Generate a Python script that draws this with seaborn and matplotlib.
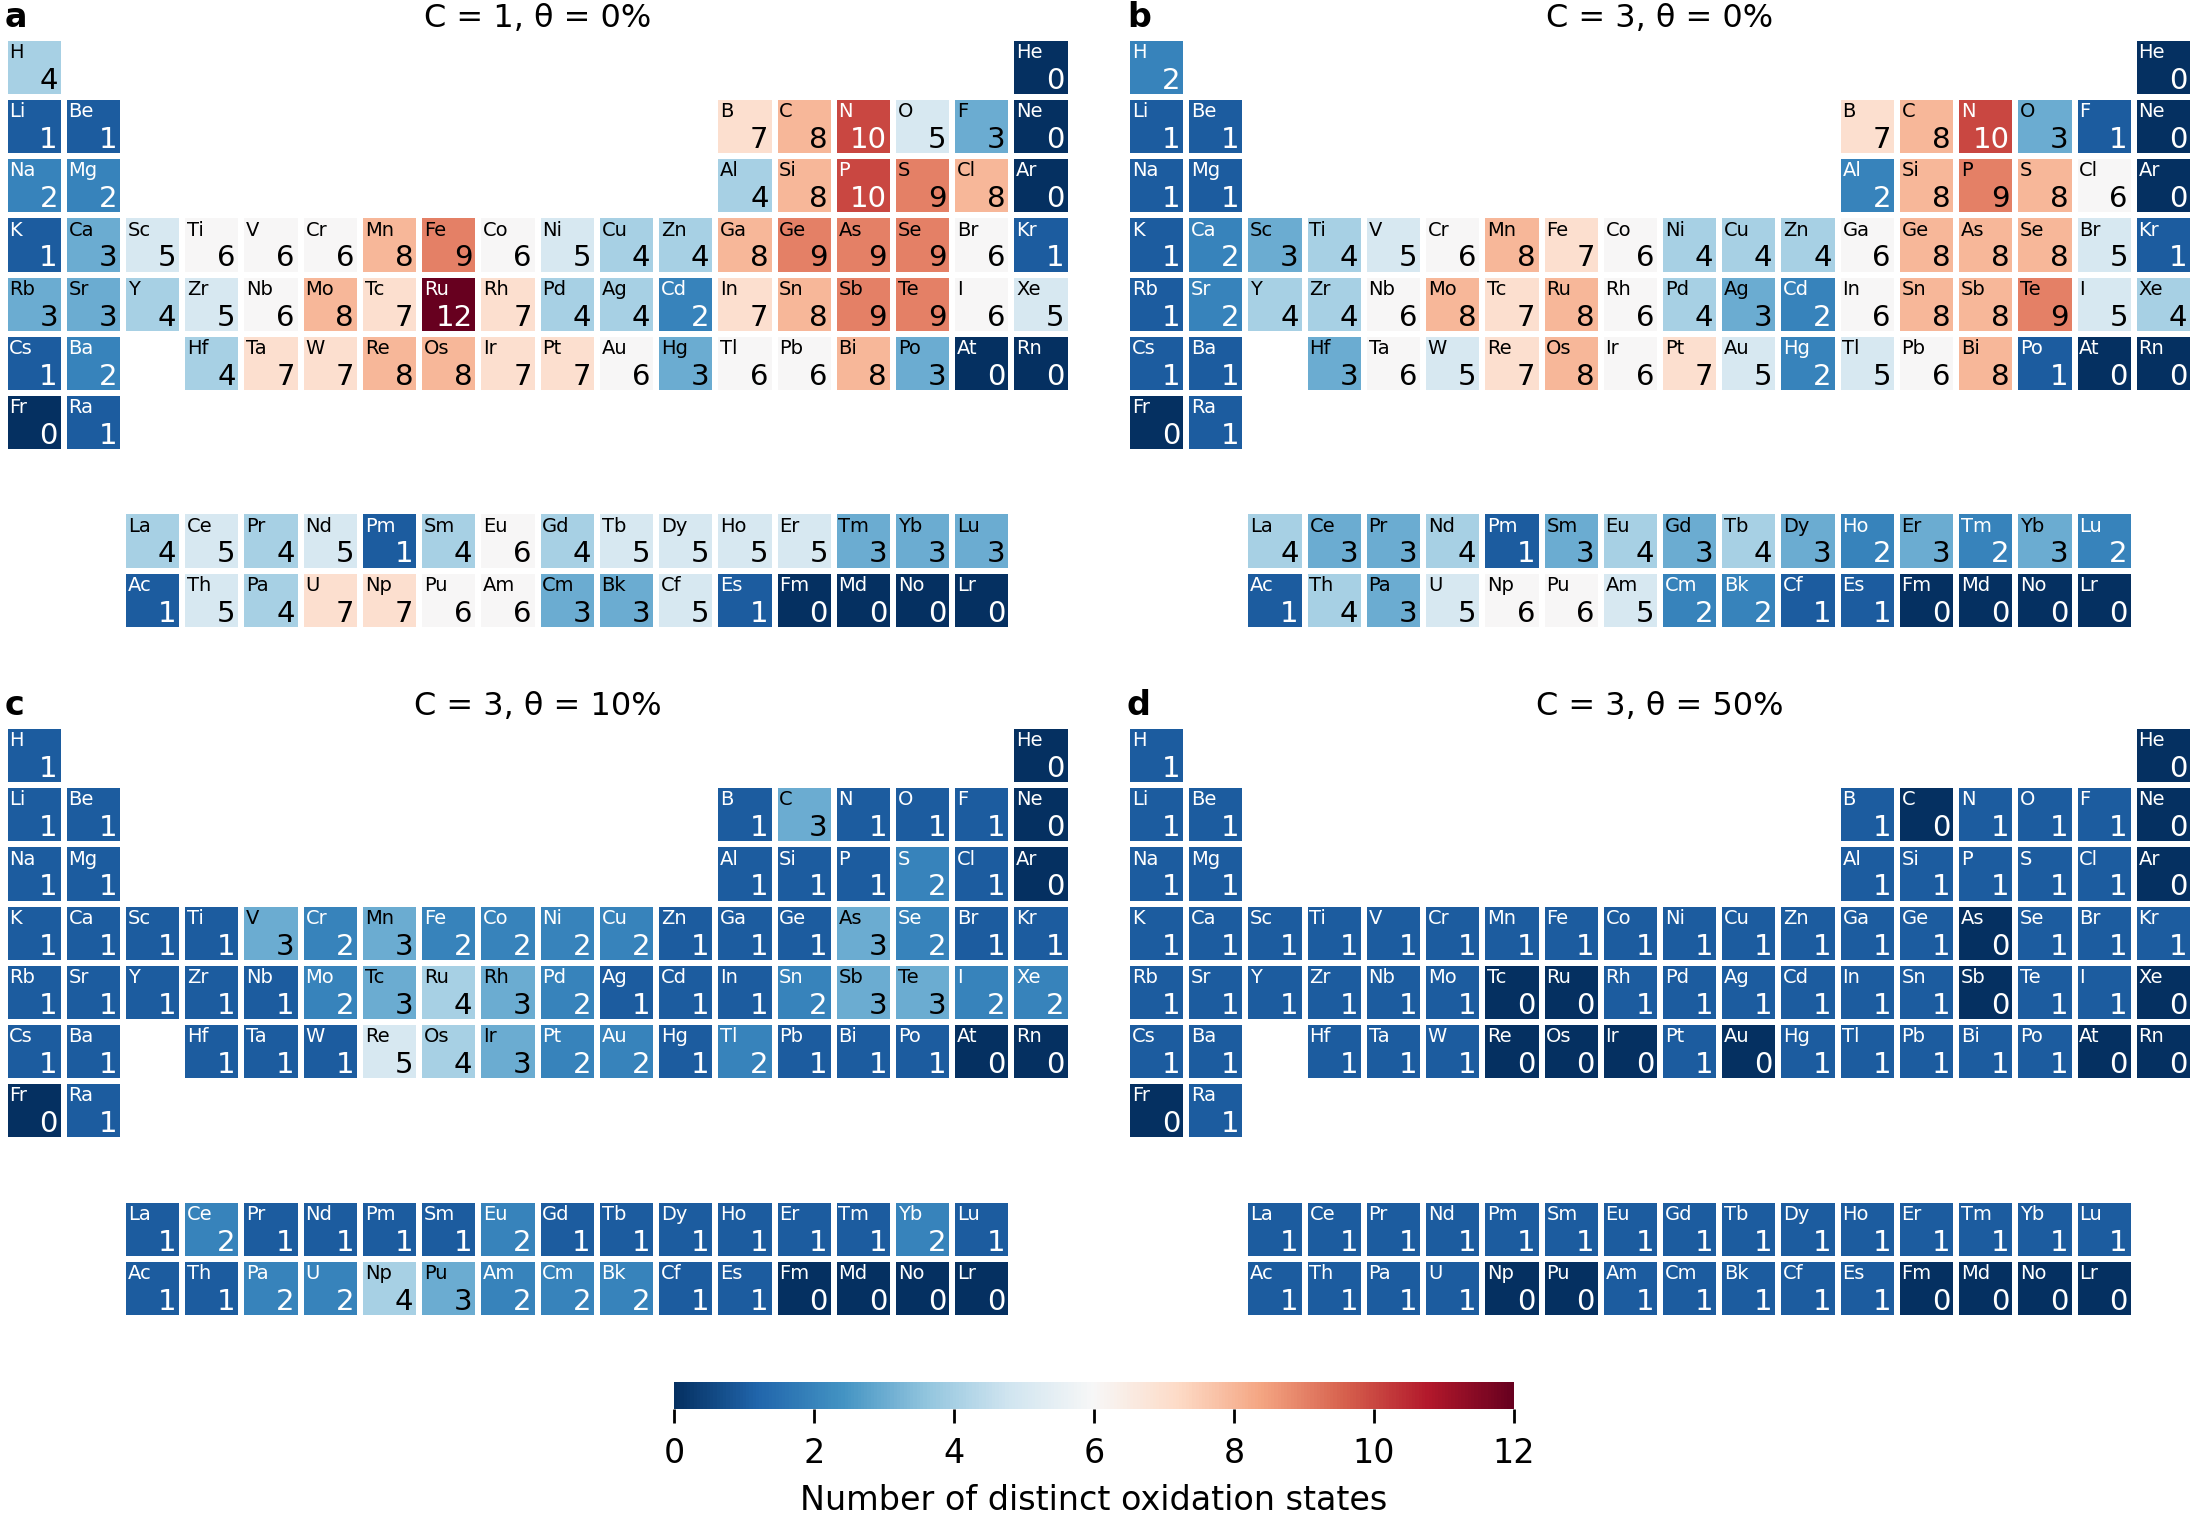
import numpy as np
import seaborn as sns
import matplotlib.pyplot as plt

# elements in atomic-number order (H .. Lr)
elements = [
    "H", "He",
    "Li", "Be", "B", "C", "N", "O", "F", "Ne",
    "Na", "Mg", "Al", "Si", "P", "S", "Cl", "Ar",
    "K", "Ca", "Sc", "Ti", "V", "Cr", "Mn", "Fe", "Co", "Ni", "Cu", "Zn", "Ga", "Ge", "As", "Se", "Br", "Kr",
    "Rb", "Sr", "Y", "Zr", "Nb", "Mo", "Tc", "Ru", "Rh", "Pd", "Ag", "Cd", "In", "Sn", "Sb", "Te", "I", "Xe",
    "Cs", "Ba",
    "La", "Ce", "Pr", "Nd", "Pm", "Sm", "Eu", "Gd", "Tb", "Dy", "Ho", "Er", "Tm", "Yb", "Lu",
    "Hf", "Ta", "W", "Re", "Os", "Ir", "Pt", "Au", "Hg", "Tl", "Pb", "Bi", "Po", "At", "Rn",
    "Fr", "Ra",
    "Ac", "Th", "Pa", "U", "Np", "Pu", "Am", "Cm", "Bk", "Cf", "Es", "Fm", "Md", "No", "Lr",
]

# number of distinct oxidation states, same order as `elements`
states_c1_t0 = [
    4, 0,
    1, 1, 7, 8, 10, 5, 3, 0,
    2, 2, 4, 8, 10, 9, 8, 0,
    1, 3, 5, 6, 6, 6, 8, 9, 6, 5, 4, 4, 8, 9, 9, 9, 6, 1,
    3, 3, 4, 5, 6, 8, 7, 12, 7, 4, 4, 2, 7, 8, 9, 9, 6, 5,
    1, 2,
    4, 5, 4, 5, 1, 4, 6, 4, 5, 5, 5, 5, 3, 3, 3,
    4, 7, 7, 8, 8, 7, 7, 6, 3, 6, 6, 8, 3, 0, 0,
    0, 1,
    1, 5, 4, 7, 7, 6, 6, 3, 3, 5, 1, 0, 0, 0, 0,
]
states_c3_t0 = [
    2, 0,
    1, 1, 7, 8, 10, 3, 1, 0,
    1, 1, 2, 8, 9, 8, 6, 0,
    1, 2, 3, 4, 5, 6, 8, 7, 6, 4, 4, 4, 6, 8, 8, 8, 5, 1,
    1, 2, 4, 4, 6, 8, 7, 8, 6, 4, 3, 2, 6, 8, 8, 9, 5, 4,
    1, 1,
    4, 3, 3, 4, 1, 3, 4, 3, 4, 3, 2, 3, 2, 3, 2,
    3, 6, 5, 7, 8, 6, 7, 5, 2, 5, 6, 8, 1, 0, 0,
    0, 1,
    1, 4, 3, 5, 6, 6, 5, 2, 2, 1, 1, 0, 0, 0, 0,
]
states_c3_t10 = [
    1, 0,
    1, 1, 1, 3, 1, 1, 1, 0,
    1, 1, 1, 1, 1, 2, 1, 0,
    1, 1, 1, 1, 3, 2, 3, 2, 2, 2, 2, 1, 1, 1, 3, 2, 1, 1,
    1, 1, 1, 1, 1, 2, 3, 4, 3, 2, 1, 1, 1, 2, 3, 3, 2, 2,
    1, 1,
    1, 2, 1, 1, 1, 1, 2, 1, 1, 1, 1, 1, 1, 2, 1,
    1, 1, 1, 5, 4, 3, 2, 2, 1, 2, 1, 1, 1, 0, 0,
    0, 1,
    1, 1, 2, 2, 4, 3, 2, 2, 2, 1, 1, 0, 0, 0, 0,
]
states_c3_t50 = [
    1, 0,
    1, 1, 1, 0, 1, 1, 1, 0,
    1, 1, 1, 1, 1, 1, 1, 0,
    1, 1, 1, 1, 1, 1, 1, 1, 1, 1, 1, 1, 1, 1, 0, 1, 1, 1,
    1, 1, 1, 1, 1, 1, 0, 0, 1, 1, 1, 1, 1, 1, 0, 1, 1, 0,
    1, 1,
    1, 1, 1, 1, 1, 1, 1, 1, 1, 1, 1, 1, 1, 1, 1,
    1, 1, 1, 0, 0, 0, 1, 0, 1, 1, 1, 1, 1, 0, 0,
    0, 1,
    1, 1, 1, 1, 0, 0, 1, 1, 1, 1, 1, 0, 0, 0, 0,
]

panel_letters = ["a", "b", "c", "d"]
panel_titles = ["C = 1, θ = 0%", "C = 3, θ = 0%", "C = 3, θ = 10%", "C = 3, θ = 50%"]
panel_values = [states_c1_t0, states_c3_t0, states_c3_t10, states_c3_t50]


def table_position(z):
    """Row / column of element with atomic number z in the periodic table grid."""
    if z == 1:
        return 0, 0
    if z == 2:
        return 0, 17
    if z <= 18:
        row, k = (1, z - 3) if z <= 10 else (2, z - 11)
        return row, k if k < 2 else k + 10
    if z <= 54:
        return 3 + (z - 19) // 18, (z - 19) % 18
    if z <= 56:
        return 5, z - 55
    if z <= 71:
        return 8, z - 57 + 2
    if z <= 86:
        return 5, z - 72 + 3
    if z <= 88:
        return 6, z - 87
    return 9, z - 89 + 2


def plot_panel(ax, values, title, letter, cbar_ax=None):
    grid = np.full((10, 18), np.nan)
    for z, v in enumerate(values, start=1):
        r, c = table_position(z)
        grid[r, c] = v

    sns.heatmap(
        grid, mask=np.isnan(grid), cmap="RdBu_r", vmin=0, vmax=12,
        linewidths=1.6, linecolor="white", xticklabels=False, yticklabels=False,
        cbar=cbar_ax is not None, cbar_ax=cbar_ax,
        cbar_kws={"orientation": "horizontal", "ticks": range(0, 13, 2)},
        ax=ax,
    )

    for z, (sym, v) in enumerate(zip(elements, values), start=1):
        r, c = table_position(z)
        color = "white" if (v <= 2 or v >= 10) else "black"
        ax.text(c + 0.08, r + 0.34, sym, ha="left", va="baseline",
                fontsize=7, color=color)
        ax.text(c + 0.90, r + 0.86, str(v), ha="right", va="baseline",
                fontsize=10.5, color=color)

    ax.set_title(title, fontsize=11.5, pad=4)
    ax.set_title(letter, loc="left", fontsize=12, fontweight="bold", pad=4)


fig = plt.figure(figsize=(10.965, 7.58), dpi=200)
ax_pos = [
    [0.0021, 0.5845, 0.4861, 0.3905],
    [0.5139, 0.5845, 0.4861, 0.3905],
    [0.0021, 0.1306, 0.4861, 0.3905],
    [0.5139, 0.1306, 0.4861, 0.3905],
]
cax = fig.add_axes([0.3073, 0.0706, 0.383, 0.0175])

for i in range(4):
    ax = fig.add_axes(ax_pos[i])
    plot_panel(ax, panel_values[i], panel_titles[i], panel_letters[i],
               cbar_ax=cax if i == 0 else None)

cax.tick_params(labelsize=12, length=5, width=1, pad=5)
cax.set_xlabel("Number of distinct oxidation states", fontsize=12, labelpad=5)

fig.savefig("out.png", dpi=200)
